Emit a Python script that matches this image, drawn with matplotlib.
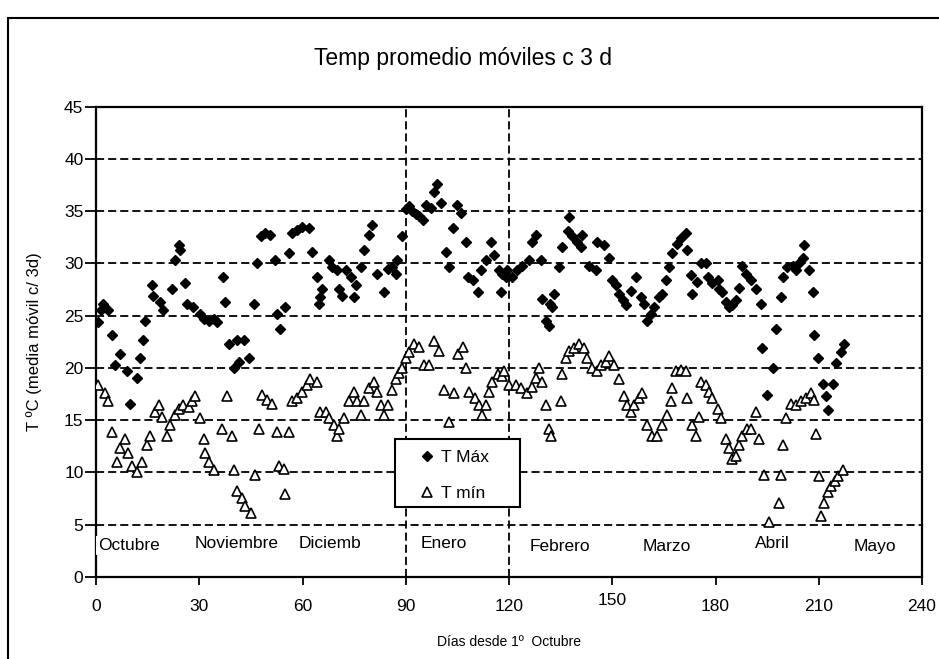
import matplotlib
matplotlib.use("Agg")
import matplotlib.pyplot as plt
from matplotlib.patches import Rectangle
from matplotlib.transforms import ScaledTranslation

plt.rcParams['font.family'] = ['Liberation Sans', 'DejaVu Sans']

# T max (3-day moving mean), day since 1 Oct
tmax_day = [0.7, 1.5, 2.0, 3.6, 4.6, 5.5, 7.0, 8.9, 9.9, 11.8, 12.8, 13.8, 14.3, 16.2, 16.7,
            18.6, 19.6, 22.0, 23.0, 24.0, 24.5, 25.9, 26.4, 28.3, 30.3, 31.3, 32.7, 34.2, 35.1,
            37.0, 37.6, 38.5, 40.0, 41.0, 41.5, 42.9, 44.4, 45.8, 46.8, 47.8, 49.2, 50.7, 52.1,
            52.6, 53.6, 55.0, 56.0, 57.0, 58.4, 59.9, 61.8, 62.8, 64.3, 64.8, 65.2, 65.7, 67.7,
            68.6, 70.0, 70.6, 71.6, 72.5, 74.0, 75.0, 75.4, 76.9, 77.9, 79.3, 80.3, 81.7, 83.7,
            84.7, 86.1, 87.1, 87.6, 89.0, 90.0, 91.0, 91.9, 92.9, 93.9, 94.9, 95.8, 97.3, 98.3,
            99.2, 100.2, 101.6, 102.6, 103.6, 105.0, 106.0, 107.5, 108.0, 109.4, 110.9, 111.8,
            113.3, 114.7, 115.7, 117.2, 117.7, 118.0, 119.1, 119.5, 121.0, 122.4, 123.9, 125.8,
            126.8, 127.8, 129.2, 129.7, 130.7, 131.6, 131.8, 132.6, 133.0, 134.5, 135.5, 137.0,
            137.4, 138.4, 139.9, 140.8, 141.3, 143.3, 145.2, 145.7, 147.6, 149.0, 150.0, 151.0,
            152.0, 153.0, 153.9, 155.4, 156.8, 158.3, 159.2, 160.2, 161.2, 162.2, 163.6, 164.6,
            165.5, 166.5, 167.5, 168.9, 169.9, 171.4, 171.8, 172.8, 173.3, 174.7, 175.7, 177.2,
            177.7, 179.1, 180.6, 181.0, 182.0, 183.0, 184.0, 184.9, 185.9, 186.9, 187.8, 188.8,
            190.3, 191.7, 193.2, 193.6, 195.1, 196.6, 197.5, 199.0, 199.5, 200.9, 202.4, 203.3,
            204.3, 205.3, 205.8, 207.2, 208.2, 208.7, 209.7, 211.1, 212.1, 212.6, 214.0, 215.0,
            216.4, 217.4]
tmax_val = [24.4, 25.5, 26.1, 25.5, 23.2, 20.3, 21.3, 19.7, 16.6, 19.0, 21.0, 22.7, 24.5, 27.9, 26.9,
            26.3, 25.5, 27.6, 30.3, 31.8, 31.3, 28.1, 26.1, 25.8, 25.2, 24.7, 24.5, 24.7, 24.4,
            28.7, 26.3, 22.3, 20.0, 22.7, 20.6, 22.7, 21.0, 26.1, 30.0, 32.6, 32.9, 32.7, 30.3,
            25.2, 23.7, 25.8, 31.0, 32.9, 33.2, 33.5, 33.4, 31.1, 28.7, 26.1, 26.8, 27.6, 30.3,
            29.7, 29.4, 27.6, 26.9, 29.4, 28.7, 26.8, 27.9, 29.7, 31.3, 32.7, 33.7, 29.0, 27.3,
            29.5, 29.7, 29.0, 30.3, 32.6, 35.2, 35.5, 35.0, 34.7, 34.5, 34.2, 35.6, 35.3, 36.8,
            37.6, 35.8, 31.1, 29.7, 33.4, 35.6, 34.8, 32.1, 28.7, 28.4, 27.3, 29.4,
            30.3, 32.1, 30.8, 29.4, 27.3, 29.0, 28.7, 29.4, 28.7, 29.4, 29.8, 30.3,
            32.1, 32.7, 30.3, 26.6, 24.5, 24.0, 26.1, 25.8, 27.1, 29.7, 31.6, 33.1,
            34.4, 32.6, 32.1, 31.6, 32.7, 29.8, 29.4, 32.1, 31.8, 30.5, 28.4, 27.9,
            27.1, 26.5, 26.0, 27.4, 28.7, 26.8, 26.1, 24.5, 25.2, 25.8, 26.8, 27.1,
            28.4, 29.7, 31.0, 31.9, 32.4, 32.9, 31.3, 28.9, 27.1, 28.2, 30.0, 30.0,
            28.7, 28.1, 28.4, 27.6, 27.3, 26.3, 25.8, 26.0, 26.5, 27.7, 29.8, 29.0,
            28.4, 27.6, 26.1, 21.9, 17.4, 20.0, 23.7, 26.8, 28.7, 29.7, 29.8, 29.4,
            30.0, 30.5, 31.8, 29.4, 27.3, 23.2, 21.0, 18.5, 17.3, 16.0, 18.5, 20.5,
            21.5, 22.3]

# T min (3-day moving mean)
tmin_day = [0.7, 2.6, 3.6, 4.6, 6.0, 7.0, 8.4, 9.4, 10.4, 11.8, 13.3, 14.8, 15.7, 17.2, 18.2,
            19.2, 20.6, 21.6, 23.0, 24.0, 25.4, 26.9, 27.9, 28.8, 30.3, 31.3, 31.8, 32.7, 34.2,
            36.6, 38.1, 39.5, 40.0, 41.0, 42.4, 43.4, 44.9, 46.3, 47.3, 48.3, 49.7, 51.2, 52.6,
            53.1, 54.6, 55.0, 56.0, 57.0, 58.4, 59.9, 61.4, 62.3, 64.3, 65.2, 66.7, 67.7, 69.1,
            70.1, 70.6, 72.0, 73.5, 75.0, 75.9, 76.9, 77.9, 79.3, 80.8, 81.7, 82.7, 83.7, 84.7,
            86.1, 87.1, 88.1, 89.0, 90.0, 91.0, 92.4, 93.9, 95.3, 96.8, 98.3, 99.7, 101.2, 102.6,
            104.1, 105.1, 106.5, 107.5, 108.5, 110.0, 111.4, 112.3, 113.3, 114.3, 115.2, 116.7,
            118.0, 118.6, 120.0, 121.9, 123.4, 125.3, 126.8, 127.8, 128.7, 129.7, 130.7, 131.6,
            132.1, 135.0, 135.5, 136.5, 137.4, 138.9, 140.3, 141.8, 142.8, 144.2, 145.7, 146.6,
            148.1, 149.1, 150.5, 152.0, 153.4, 154.4, 155.4, 156.3, 157.8, 158.7, 160.2, 161.6,
            163.0, 164.6, 166.0, 167.0, 167.5, 168.4, 169.9, 171.4, 171.8, 173.3, 174.3, 175.2,
            175.7, 177.2, 178.1, 179.1, 180.6, 181.6, 183.0, 184.0, 184.9, 185.9, 186.9, 187.8,
            189.2, 190.3, 191.7, 192.7, 194.1, 195.6, 198.5, 199.0, 199.5, 200.4, 201.8, 203.3,
            204.8, 206.2, 207.7, 208.7, 209.1, 210.1, 210.6, 211.6, 212.6, 213.5, 214.6, 215.5,
            217.0]
tmin_val = [18.4, 17.6, 16.8, 13.9, 11.0, 12.3, 13.2, 11.9, 10.6, 10.0, 11.0, 12.6, 13.5, 15.8, 16.5,
            15.3, 13.5, 14.5, 15.5, 16.1, 16.5, 16.3, 16.8, 17.3, 15.2, 13.2, 11.9, 11.0, 10.2,
            14.2, 17.3, 13.5, 10.2, 8.2, 7.6, 6.8, 6.1, 9.8, 14.2, 17.4, 16.9, 16.6, 13.9,
            10.6, 10.3, 7.9, 13.9, 16.8, 17.1, 17.7, 18.4, 18.9, 18.7, 15.8, 15.8, 15.2, 14.5,
            13.5, 14.2, 15.2, 16.8, 17.7, 16.8, 15.5, 16.8, 18.1, 18.7, 17.7, 16.5, 15.5, 16.5,
            17.9, 18.9, 19.5, 20.0, 21.0, 21.5, 22.3, 22.0, 20.3, 20.3, 22.6, 21.6, 17.9, 14.8,
            17.6, 21.3, 22.0, 20.0, 17.7, 17.1, 16.5, 15.5, 16.5, 17.7, 18.7, 19.4,
            19.2, 19.7, 18.4, 18.4, 18.1, 17.6, 18.2, 19.0, 20.0, 18.7, 16.5, 14.2,
            13.5, 16.8, 19.4, 21.0, 21.6, 21.9, 22.3, 21.9, 21.0, 20.0, 19.7, 20.3,
            20.6, 21.1, 20.3, 18.9, 17.3, 16.5, 15.8, 16.5, 17.1, 17.6, 14.5, 13.5,
            13.5, 14.5, 15.5, 16.8, 18.1, 19.7, 19.8, 19.7, 17.1, 14.5, 13.5, 15.3,
            18.7, 18.4, 17.7, 17.1, 16.1, 15.2, 13.2, 12.3, 11.3, 11.6, 12.6, 13.5,
            14.2, 14.2, 15.8, 13.2, 9.8, 5.3, 7.1, 9.8, 12.6, 15.2, 16.6, 16.5,
            16.8, 17.1, 17.6, 16.9, 13.7, 9.7, 5.8, 7.1, 8.1, 8.7, 9.2, 9.7,
            10.2]

months = ['Octubre', 'Noviembre', 'Diciemb', 'Enero', 'Febrero', 'Marzo', 'Abril', 'Mayo']
month_day = [0.6, 28.8, 58.8, 94.4, 126.0, 158.8, 191.4, 220.0]
month_y = [3.0, 3.25, 3.25, 3.25, 2.9, 2.9, 3.25, 2.9]

fig = plt.figure(figsize=(9.39, 6.59), dpi=100)
ax = fig.add_axes([96/939, 1 - 577/659, 826/939, 470.3/659])

# outer frame of the original sheet (cropped at right/bottom)
fig.add_artist(Rectangle((8/939, -0.2), 1.5, 1 - 18/659 + 0.2, transform=fig.transFigure,
                         fill=False, edgecolor='black', lw=1.5))

dash = (0, (4.5, 2.2))
for yv in range(5, 45, 5):
    ax.axhline(yv, color='black', lw=1.3, linestyle=dash, zorder=1)
for xv in [90, 120]:
    ax.axvline(xv, color='black', lw=1.3, linestyle=dash, zorder=1)

ax.plot(tmax_day, tmax_val, linestyle='none', marker='D', ms=5.5, color='black',
        mec='black', label='T Máx', zorder=3)
ax.plot(tmin_day, tmin_val, linestyle='none', marker='^', ms=7.5, mfc='white',
        mec='black', mew=1.2, label='T mín', zorder=3)

for name, d, yv in zip(months, month_day, month_y):
    ax.text(d, yv, name, fontsize=12.5, ha='left', va='center', zorder=4,
            bbox=dict(facecolor='white', edgecolor='none', pad=1.5))

ax.set_xlim(0, 240)
ax.set_ylim(0, 45)
ax.set_xticks(range(0, 241, 30))
ax.set_yticks(range(0, 46, 5))
ax.tick_params(axis='both', labelsize=12.5, color='black', width=1.3)
ax.tick_params(axis='x', direction='out', length=6, pad=10)
ax.tick_params(axis='y', direction='out', length=8, pad=1)
for sp in ax.spines.values():
    sp.set_linewidth(1.6)
    sp.set_color('black')

# the "150" label sits a little higher in the original
for lbl in ax.get_xticklabels():
    if lbl.get_text() == '150':
        lbl.set_transform(lbl.get_transform() + ScaledTranslation(0, 6/100, fig.dpi_scale_trans))

fig.text(463/939, 1 - 58/659, 'Temp promedio móviles c 3 d', fontsize=16.5,
         ha='center', va='center')
ax.set_xlabel('Días desde 1º  Octubre', fontsize=10, labelpad=15)
ax.set_ylabel('T ºC (media móvil c/ 3d)', fontsize=12, labelpad=16)

# legend box drawn separately so its padding matches the original
ax.add_patch(Rectangle((0.362, 0.149), 0.151, 0.1446, transform=ax.transAxes,
                       facecolor='white', edgecolor='black', lw=1.5, zorder=4))
leg = ax.legend(loc='center', bbox_to_anchor=(0.433, 0.215), fontsize=12.5,
                frameon=False, handlelength=1.0, handletextpad=0.25,
                labelspacing=1.2, borderpad=0, borderaxespad=0)
leg.set_zorder(5)

fig.savefig('out.png', dpi=100)
